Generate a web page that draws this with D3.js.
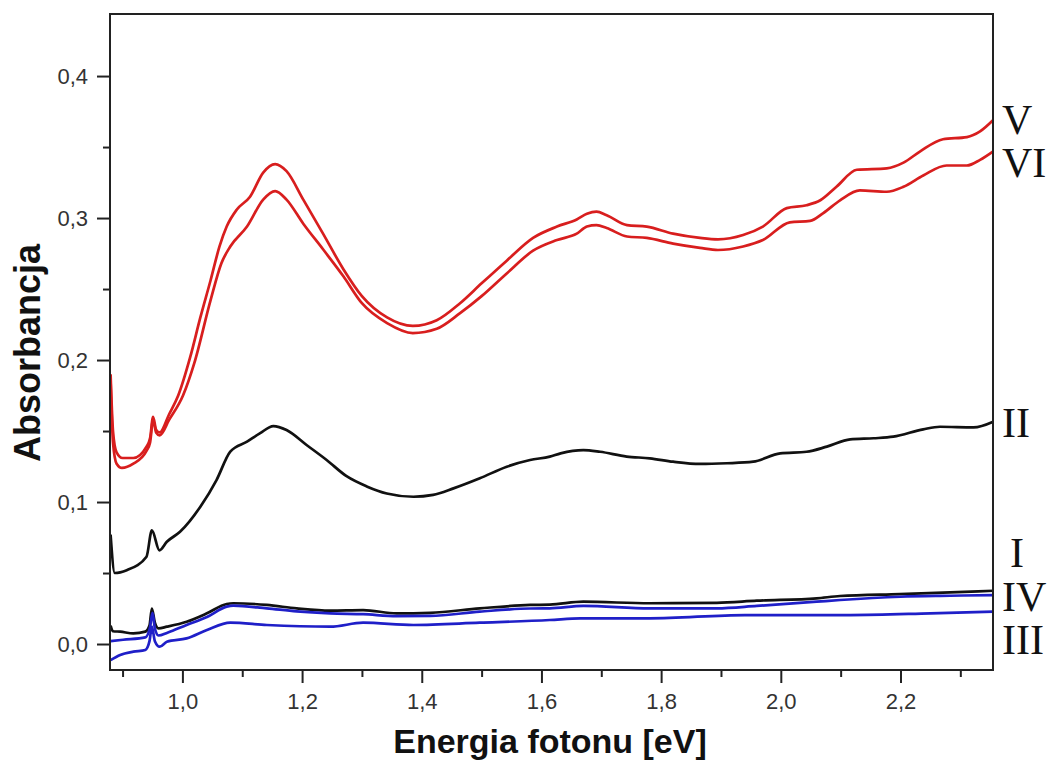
<html>
<head>
<meta charset="utf-8">
<style>
  body { margin: 0; background: white; font-family: Arial, "Liberation Sans", sans-serif; }
  svg { display: block; }
</style>
<script src="https://cdn.jsdelivr.net/npm/d3@7"></script>
</head>
<body>
<svg id="main"></svg>
<script>
// absorbance spectra, [energy eV, absorbance]
const seriesV = [[0.880,0.190],[0.884,0.150],[0.890,0.135],[0.900,0.131],[0.918,0.131],[0.940,0.139],[0.946,0.145],[0.951,0.160],[0.956,0.151],[0.962,0.149],[0.978,0.162],[0.993,0.175],[1.013,0.202],[1.030,0.230],[1.047,0.256],[1.062,0.280],[1.074,0.294],[1.091,0.306],[1.113,0.315],[1.135,0.332],[1.155,0.338],[1.174,0.333],[1.202,0.313],[1.235,0.289],[1.269,0.264],[1.300,0.245],[1.342,0.230],[1.385,0.224],[1.425,0.228],[1.464,0.240],[1.500,0.254],[1.542,0.270],[1.586,0.286],[1.626,0.294],[1.659,0.299],[1.676,0.303],[1.692,0.3045],[1.709,0.302],[1.743,0.295],[1.776,0.294],[1.820,0.289],[1.865,0.286],[1.895,0.285],[1.937,0.288],[1.970,0.294],[2.010,0.307],[2.043,0.309],[2.066,0.3125],[2.093,0.322],[2.127,0.334],[2.177,0.335],[2.205,0.339],[2.233,0.347],[2.271,0.3555],[2.311,0.357],[2.333,0.361],[2.355,0.369]]
const seriesVI = [[0.880,0.185],[0.884,0.142],[0.890,0.127],[0.899,0.124],[0.918,0.127],[0.940,0.136],[0.946,0.142],[0.951,0.158],[0.956,0.149],[0.962,0.147],[0.978,0.158],[1.001,0.175],[1.020,0.198],[1.047,0.242],[1.065,0.268],[1.080,0.280],[1.108,0.294],[1.135,0.313],[1.155,0.319],[1.174,0.313],[1.202,0.296],[1.235,0.278],[1.269,0.259],[1.300,0.240],[1.342,0.226],[1.385,0.219],[1.425,0.222],[1.464,0.233],[1.500,0.245],[1.542,0.261],[1.586,0.277],[1.626,0.2845],[1.659,0.289],[1.676,0.294],[1.692,0.295],[1.709,0.293],[1.743,0.287],[1.776,0.286],[1.820,0.282],[1.865,0.279],[1.895,0.2775],[1.937,0.280],[1.970,0.2845],[2.015,0.297],[2.049,0.298],[2.071,0.3035],[2.099,0.3125],[2.132,0.3195],[2.177,0.3185],[2.205,0.322],[2.238,0.330],[2.277,0.337],[2.311,0.337],[2.333,0.341],[2.355,0.347]]
const seriesII = [[0.880,0.077],[0.887,0.050],[0.907,0.052],[0.940,0.0615],[0.949,0.080],[0.9616,0.066],[0.974,0.072],[0.996,0.079],[1.030,0.0967],[1.057,0.1155],[1.080,0.1355],[1.108,0.1425],[1.130,0.1485],[1.152,0.1535],[1.174,0.1507],[1.208,0.140],[1.241,0.1296],[1.275,0.118],[1.308,0.111],[1.3415,0.106],[1.386,0.1037],[1.419,0.105],[1.453,0.1096],[1.497,0.1167],[1.542,0.1249],[1.581,0.1296],[1.614,0.132],[1.632,0.1343],[1.670,0.1366],[1.698,0.1354],[1.7425,0.132],[1.781,0.1308],[1.820,0.1284],[1.865,0.1268],[1.910,0.1273],[1.954,0.1284],[1.999,0.1343],[2.043,0.1354],[2.077,0.139],[2.116,0.1441],[2.155,0.1449],[2.188,0.146],[2.238,0.1512],[2.266,0.153],[2.322,0.1526],[2.355,0.1566]]
const seriesI = [[0.880,0.013],[0.884,0.009],[0.896,0.0087],[0.918,0.0075],[0.938,0.0087],[0.945,0.013],[0.949,0.025],[0.954,0.015],[0.960,0.011],[0.974,0.0122],[1.007,0.0157],[1.041,0.0216],[1.074,0.0282],[1.085,0.0287],[1.141,0.0275],[1.191,0.0251],[1.247,0.0235],[1.302,0.0239],[1.358,0.0216],[1.414,0.022],[1.497,0.0251],[1.581,0.0275],[1.614,0.0277],[1.670,0.0298],[1.781,0.0287],[1.893,0.029],[1.960,0.0305],[2.060,0.0322],[2.099,0.0338],[2.199,0.0352],[2.283,0.0364],[2.355,0.0375]]
const seriesIV = [[0.880,0.002],[0.901,0.003],[0.938,0.0047],[0.946,0.012],[0.950,0.022],[0.954,0.011],[0.960,0.006],[0.975,0.008],[1.007,0.0134],[1.041,0.019],[1.074,0.0263],[1.085,0.027],[1.141,0.0251],[1.191,0.023],[1.247,0.0216],[1.302,0.021],[1.358,0.0197],[1.414,0.0198],[1.497,0.0228],[1.581,0.025],[1.614,0.0251],[1.670,0.0268],[1.781,0.0251],[1.893,0.0251],[1.960,0.0268],[2.060,0.0298],[2.099,0.031],[2.200,0.0333],[2.283,0.034],[2.355,0.0345]]
const seriesIII = [[0.880,-0.0113],[0.896,-0.0077],[0.918,-0.0054],[0.938,-0.0042],[0.945,0.002],[0.949,0.0122],[0.954,0.002],[0.962,-0.0019],[0.974,0.0016],[1.007,0.004],[1.041,0.0099],[1.080,0.015],[1.141,0.0134],[1.247,0.0122],[1.302,0.015],[1.386,0.0134],[1.497,0.015],[1.614,0.0169],[1.665,0.0181],[1.781,0.0181],[1.940,0.0204],[2.116,0.0204],[2.250,0.0216],[2.355,0.0228]]

const seriesList = [
  {name: "I",   values: seriesI,   color: "#111111"},
  {name: "II",  values: seriesII,  color: "#111111"},
  {name: "IV",  values: seriesIV,  color: "#1f1fc8"},
  {name: "III", values: seriesIII, color: "#1f1fc8"},
  {name: "V",   values: seriesV,   color: "#d81e1e"},
  {name: "VI",  values: seriesVI,  color: "#d81e1e"}
]

// curve labels on the right, name and baseline value
const labelNames = ["V", "VI", "II", "I", "IV", "III"]
const labelValues = [0.359, 0.329, 0.146, 0.054, 0.0235, -0.0072]

const yMajor = [0, 0.1, 0.2, 0.3, 0.4]
const yMinor = [0.05, 0.15, 0.25, 0.35]
const xMajor = [1.0, 1.2, 1.4, 1.6, 1.8, 2.0, 2.2]
const xMinor = [0.9, 1.1, 1.3, 1.5, 1.7, 1.9, 2.1, 2.3]

const width = 1056
const height = 760
const margin = {top: 14, right: 63, bottom: 90, left: 110}

const svg = d3.select("#main").attr("width", width).attr("height", height)

const x = d3.scaleLinear().domain([0.879, 2.3546]).range([margin.left, width - margin.right])
const y = d3.scaleLinear().domain([-0.0183, 0.4437]).range([height - margin.bottom, margin.top])

const comma = d => d3.format(".1f")(d).replace(".", ",")

// curves
const line = d3.line().x(d => x(d[0])).y(d => y(d[1])).curve(d3.curveMonotoneX)

svg.append("g")
  .attr("fill", "none")
  .attr("stroke-width", 2.7)
  .attr("stroke-linejoin", "round")
  .selectAll("path")
  .data(seriesList)
  .join("path")
  .attr("stroke", d => d.color)
  .attr("d", d => line(d.values))

// axes
const axisColor = "#222"

function styleAxis(g) {
  g.select(".domain").remove()
  g.selectAll(".tick line").attr("stroke", axisColor).attr("stroke-width", 2)
  g.selectAll(".tick text").attr("fill", "#333").attr("font-size", 22).attr("font-family", "Arial, 'Liberation Sans', sans-serif")
}

svg.append("g")
  .attr("transform", `translate(${margin.left},0)`)
  .call(d3.axisLeft(y).tickValues(yMajor).tickFormat(comma).tickSize(13).tickPadding(9))
  .call(styleAxis)

svg.append("g")
  .attr("transform", `translate(${margin.left},0)`)
  .call(d3.axisLeft(y).tickValues(yMinor).tickFormat("").tickSize(7))
  .call(styleAxis)

svg.append("g")
  .attr("transform", `translate(0,${height - margin.bottom})`)
  .call(d3.axisBottom(x).tickValues(xMajor).tickFormat(comma).tickSize(13).tickPadding(10))
  .call(styleAxis)

svg.append("g")
  .attr("transform", `translate(0,${height - margin.bottom})`)
  .call(d3.axisBottom(x).tickValues(xMinor).tickFormat("").tickSize(7))
  .call(styleAxis)

// frame
svg.append("rect")
  .attr("x", margin.left)
  .attr("y", margin.top)
  .attr("width", width - margin.left - margin.right)
  .attr("height", height - margin.top - margin.bottom)
  .attr("fill", "none")
  .attr("stroke", axisColor)
  .attr("stroke-width", 2)

// axis titles
svg.append("text")
  .attr("x", 550)
  .attr("y", 753)
  .attr("text-anchor", "middle")
  .attr("font-size", 34)
  .attr("font-weight", "bold")
  .attr("fill", "#111")
  .text("Energia fotonu [eV]")

svg.append("text")
  .attr("transform", `translate(40,${y(0.205)}) rotate(-90)`)
  .attr("text-anchor", "middle")
  .attr("font-size", 36)
  .attr("font-weight", "bold")
  .attr("fill", "#111")
  .text("Absorbancja")

// right labels
svg.append("g")
  .attr("font-family", "'Liberation Serif', 'DejaVu Serif', serif")
  .attr("font-size", 42)
  .attr("fill", "#111")
  .selectAll("text")
  .data(labelNames)
  .join("text")
  .attr("x", (d, i) => d === "I" ? width - margin.right + 17 : width - margin.right + 9)
  .attr("y", (d, i) => y(labelValues[i]))
  .text(d => d)
</script>
</body>
</html>
